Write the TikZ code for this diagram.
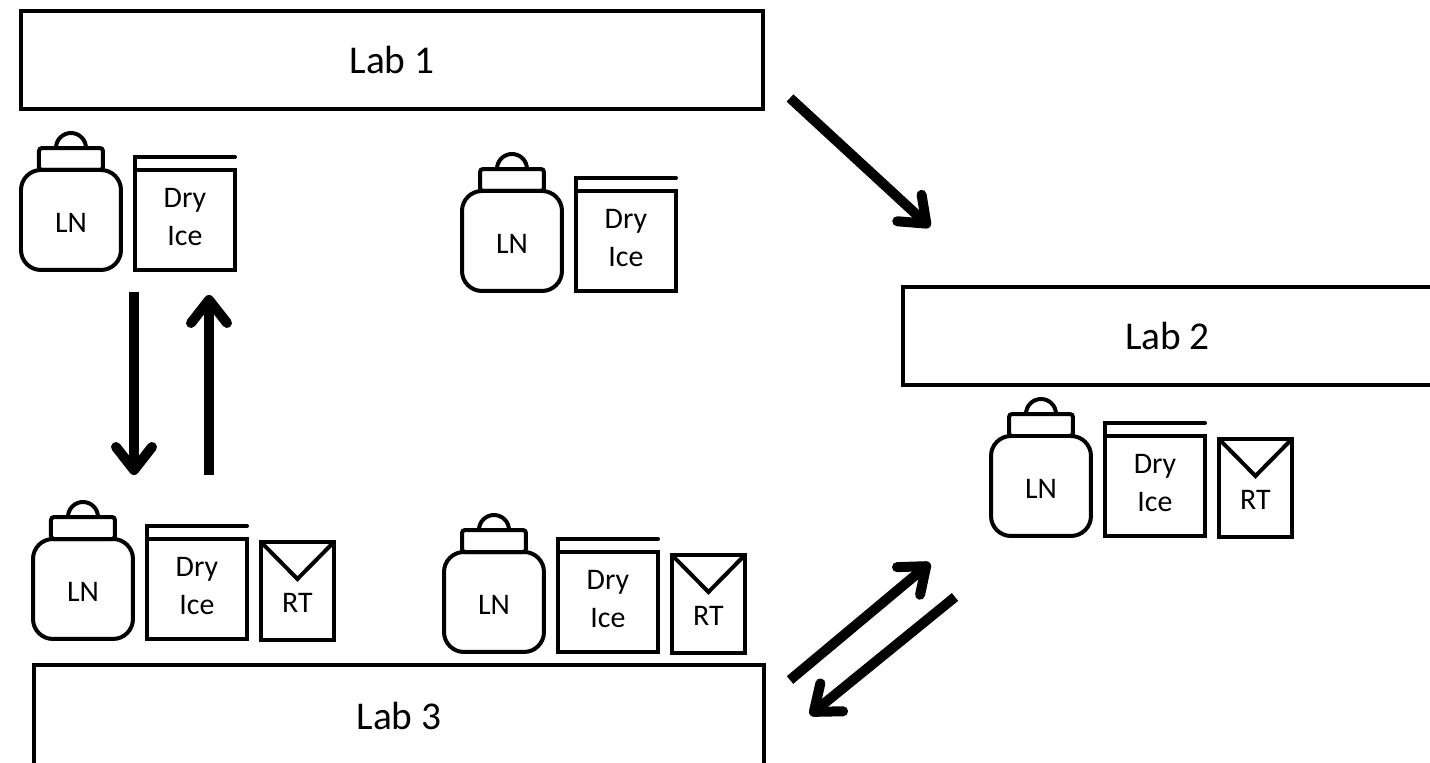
\documentclass[tikz,border=0pt]{standalone}
\usepackage{fontspec}
\setmainfont{Carlito}
\usepackage{tikz}
\usetikzlibrary{positioning,arrows.meta,calc}
\tikzset{
  labbox/.style ={draw=black, line width=0.07cm, minimum height=1.96cm, outer sep=0pt,
                  inner sep=0pt, font=\fontsize{22.4}{26}\selectfont},
  iconbase/.style={draw=black, line width=0.08cm, outer sep=0pt, inner sep=0pt,
                  align=center, font=\fontsize{17}{21.5}\selectfont},
  jarbody/.style={iconbase, rounded corners=0.4cm, minimum width=2cm, minimum height=2cm},
  jarlid/.style ={iconbase, rounded corners=0.06cm, minimum width=1.28cm, minimum height=0.44cm},
  drybox/.style ={iconbase, minimum width=2cm, minimum height=2cm},
  rtbox/.style  ={iconbase, minimum width=1.46cm, minimum height=1.96cm},
  rtlabel/.style={font=\fontsize{17}{21}\selectfont, inner sep=0pt},
  iconline/.style={line width=0.08cm, line cap=round},
  flow/.style   ={-{Straight Barb[round,length=0.46cm,width=0.72cm,line width=0.2cm]}, line width=0.2cm},
}
% jar and dry ice box
\newcommand{\coldkit}[3]{%
  \node[jarbody, anchor=north west] (#1jar) at (#2,#3) {\rule{0pt}{14.4pt}LN};
  \node[jarlid, above=0pt of #1jar] (#1lid) {};
  \draw[iconline] ($(#1lid.north)+(-15,0)$) arc[start angle=180,end angle=0,radius=0.3cm];
  \node[drybox, right=0.28cm of #1jar] (#1dry) {Dry\\Ice\rule[-3.4pt]{0pt}{0pt}};
  \draw[iconline] (#1dry.north west) -- ++(0,-13) -- ++(100,0);
}
% same, with the room temperature envelope
\newcommand{\fullkit}[3]{%
  \coldkit{#1}{#2}{#3}
  \node[rtbox, right=0.28cm of #1dry, yshift=-0.04cm] (#1rt) {};
  \coordinate (#1flap) at ($(#1rt.center)+(0,-12)$);
  \draw[iconline] (#1rt.north west) -- (#1flap) -- (#1rt.north east);
  \node[rtlabel] (#1rttext) at ($(#1rt.center)+(0,12)$) {RT};
}

\begin{document}
\begin{tikzpicture}[x=0.02cm, y=-0.02cm]
  \useasboundingbox (0,0) rectangle (1430,763);

  % ---- labs ----
  \node[labbox, minimum width=14.84cm, anchor=north west] (lab1) at (21,11) {Lab 1};
  \node[labbox, minimum width=10.58cm, anchor=north west] (lab2) at (903,287) {Lab 2};
  \node[labbox, minimum width=14.6cm, minimum height=2.02cm, anchor=north west] (lab3) at (34,665) {Lab 3};

  % ---- shippers ----
  \coldkit{a}{21}{170}
  \coldkit{b}{462}{191}
  \fullkit{c}{33}{539}
  \fullkit{d}{444}{552}
  \fullkit{e}{991}{436}

  % ---- arrow ends ----
  \coordinate (p1) at (790,98);
  \coordinate (p2) at (930,227);
  \coordinate (p3) at (134,292);
  \coordinate (p4) at (134,475);
  \coordinate (p5) at (209,475);
  \coordinate (p6) at (209,295);
  \coordinate (p7) at (790,680);
  \coordinate (p8) at (930,563);
  \coordinate (p9) at (955,597);
  \coordinate (p10) at (810,715);

  % ---- edges ----
  \draw[flow] (p1) -- (p2);
  \draw[flow] (p3) -- (p4);
  \draw[flow] (p5) -- (p6);
  \draw[flow] (p7) -- (p8);
  \draw[flow] (p9) -- (p10);
\end{tikzpicture}
\end{document}
